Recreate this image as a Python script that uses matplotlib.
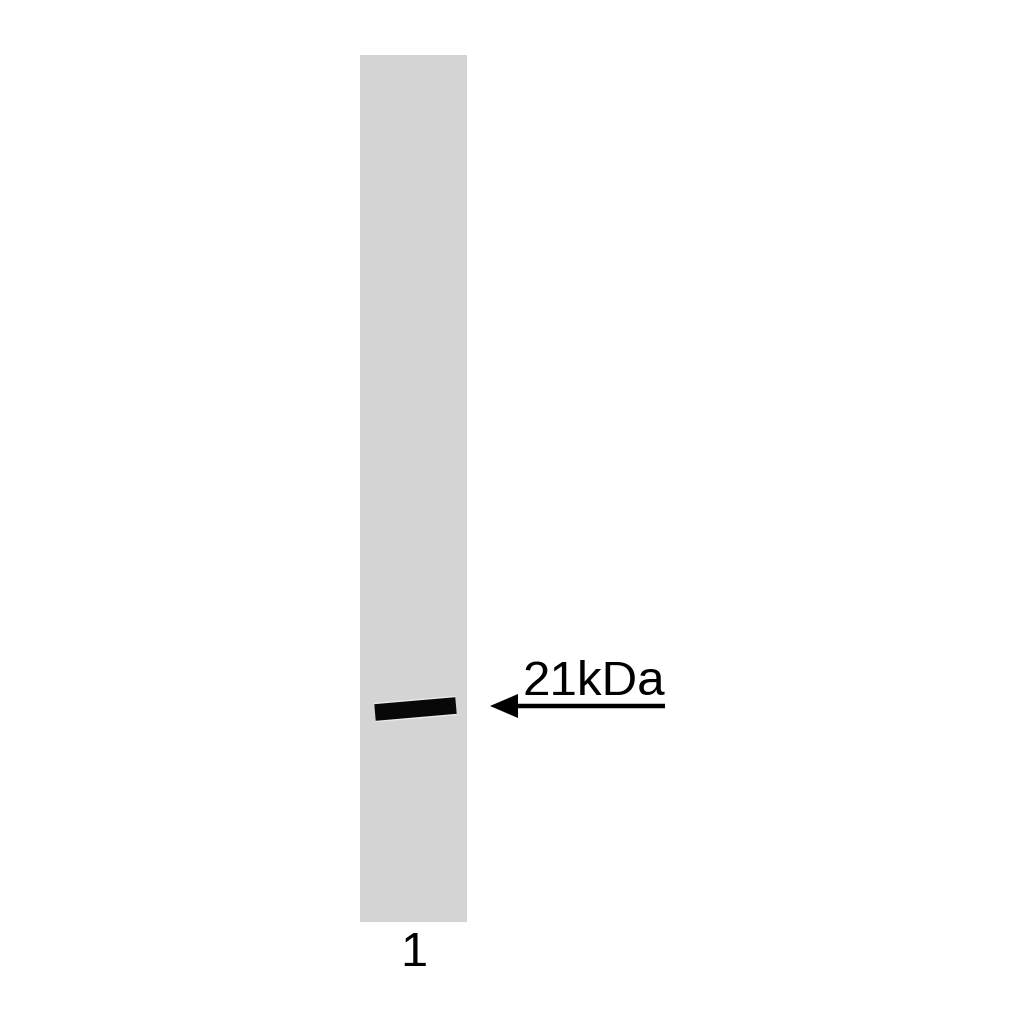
import numpy as np
import matplotlib.pyplot as plt

# lane layout (pixel coordinates of the scanned blot)
lane_labels = ["1"]
lane_left = [360]
lane_right = [467]
lane_top = 55
lane_bottom = 922

# detected band: left/right end points (centre line)
band_x = [375, 456]
band_y = [712.5, 705.5]

marker_label = "21kDa"
marker_y = 706

fig = plt.figure(figsize=(10.24, 10.24), dpi=100)
ax = fig.add_axes([0, 0, 1, 1])
ax.set_xlim(0, 1024)
ax.set_ylim(1024, 0)
ax.axis('off')

plt.rcParams['font.family'] = ['Liberation Sans', 'DejaVu Sans']

for k in range(len(lane_labels)):
    w = lane_right[k] - lane_left[k]
    ax.bar(lane_left[k] + w / 2, lane_bottom - lane_top, width=w,
           bottom=lane_top, color='#d4d4d4', edgecolor='none')
    ax.text(lane_left[k] + w / 2, 953, lane_labels[k], ha='center',
            va='center', fontsize=35, color='black')

# the band, with a faint light halo like the scan
ax.plot(band_x, band_y, color='#eaeaea', lw=14, solid_capstyle='butt')
ax.plot(band_x, band_y, color='#080808', lw=12, solid_capstyle='butt')

# marker arrow and label
ax.arrow(665, marker_y, -175, 0, width=4.5, head_width=24, head_length=28,
         length_includes_head=True, color='black', lw=0)
ax.text(665, 695, marker_label, ha='right', va='baseline',
        fontsize=35.5, color='black')

fig.savefig('out.png', dpi=100)
